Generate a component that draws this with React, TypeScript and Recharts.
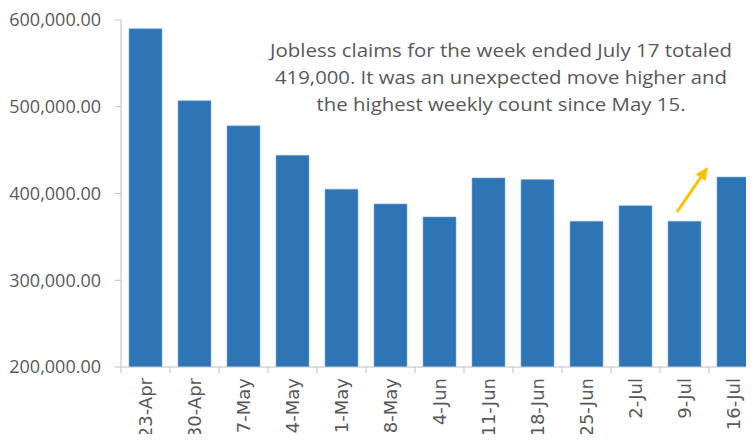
import React from "react";
import { BarChart, Bar, XAxis, YAxis } from "recharts";

const weeks = ["23-Apr", "30-Apr", "7-May", "14-May", "21-May", "28-May", "4-Jun", "11-Jun", "18-Jun", "25-Jun", "2-Jul", "9-Jul", "16-Jul"];
const claims = [590000, 507000, 478000, 444000, 405000, 388000, 373000, 418000, 416000, 368000, 386000, 368000, 419000];
const yTicks = [200000, 300000, 400000, 500000, 600000];
const noteLines = [
  "Jobless claims for the week ended July 17 totaled",
  "419,000. It was an unexpected move higher and",
  "the highest weekly count since May 15.",
];

const data = weeks.map((w, i) => ({ week: w, claims: claims[i] }));

const FONT = "'Open Sans', 'DejaVu Sans', sans-serif";
const XFONT = "'DejaVu Sans', sans-serif";
const TEXT = "#595959";
const AXIS = "#BFBFBF";

const fmt = (v: number) =>
  v.toLocaleString("en-US", { minimumFractionDigits: 2, maximumFractionDigits: 2 });

const XTick = (props: any) => {
  const { x, y, payload } = props;
  const off = payload.offset ?? 24.5;
  return (
    <g>
      <line x1={x - off} y1={y - 8} x2={x - off} y2={y - 2} stroke={AXIS} strokeWidth={1} />
      <text
        x={x}
        y={y + 3}
        transform={`rotate(-90, ${x}, ${y + 3})`}
        textAnchor="end"
        dy="0.35em"
        fontSize={18}
        fill={TEXT}
        fontFamily={XFONT}
      >
        {payload.value}
      </text>
    </g>
  );
};

export default function App() {
  return (
    <div
      style={{
        position: "relative",
        marginLeft: -8,
        marginTop: -8,
        marginBottom: -8,
        width: 754,
        height: 442,
        overflow: "hidden",
        background: "#fff",
      }}
    >
      <BarChart
        width={758}
        height={442}
        data={data}
        margin={{ top: 20, right: 0, bottom: 0, left: 0 }}
        barSize={33}
      >
        <YAxis
          width={121}
          domain={[200000, 600000]}
          ticks={yTicks}
          allowDataOverflow
          tickFormatter={fmt}
          tick={{ fontSize: 18, fill: TEXT, fontFamily: FONT }}
          tickSize={6}
          tickMargin={14}
          axisLine={{ stroke: AXIS }}
          tickLine={{ stroke: AXIS }}
        />
        <XAxis
          dataKey="week"
          height={75}
          interval={0}
          tick={<XTick />}
          tickLine={false}
          axisLine={{ stroke: AXIS }}
        />
        <Bar dataKey="claims" fill="#2E75B6" stroke="#7FAEDC" strokeWidth={0.6} isAnimationActive={false} />
      </BarChart>
      <svg
        width={754}
        height={442}
        style={{ position: "absolute", left: 0, top: 0, pointerEvents: "none" }}
      >
        {noteLines.map((t, i) => (
          <text
            key={i}
            x={501}
            y={57 + i * 27}
            textAnchor="middle"
            fontSize={18}
            fill={TEXT}
            fontFamily={FONT}
            textLength={[462, 452, 369][i]}
            lengthAdjust="spacingAndGlyphs"
          >
            {t}
          </text>
        ))}
        <line x1={677} y1={212} x2={701} y2={177} stroke="#FFC000" strokeWidth={3} />
        <polygon points="708,167 705.5,181.1 695.7,174.3" fill="#FFC000" />
      </svg>
    </div>
  );
}
